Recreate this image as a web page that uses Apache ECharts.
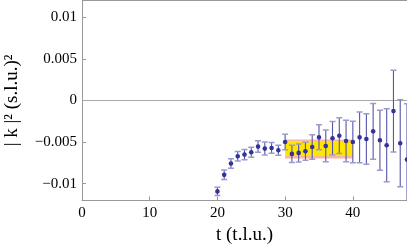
<!DOCTYPE html>
<html><head><meta charset="utf-8">
<script src="https://cdn.jsdelivr.net/npm/echarts@6/dist/echarts.min.js"></script>
<style>html,body{margin:0;padding:0;background:#fff}#c{width:407px;height:249px}</style>
</head><body><div id="c"></div>
<script>
var times = [20,21,22,23,24,25,26,27,28,29,30,31,32,33,34,35,36,37,38,39,40,41,42,43,44,45,46,47,48];
var k2 = [-0.01092,-0.00893,-0.00757,-0.0067,-0.0065,-0.00622,-0.00554,-0.00578,-0.0057,-0.00598,
          -0.00499,-0.00642,-0.0063,-0.0061,-0.00558,-0.00443,-0.00546,-0.00454,-0.00423,-0.00487,
          -0.00499,-0.00443,-0.00463,-0.00371,-0.00478,-0.00538,-0.00128,-0.00514,-0.0071];
var errs = [0.0005,0.00057,0.00056,0.00056,0.00062,0.0006,0.00069,0.00078,0.00064,0.0006,
            0.00092,0.00104,0.00108,0.00108,0.00147,0.0015,0.0019,0.002,0.00215,0.00248,
            0.00249,0.00305,0.00303,0.00335,0.00359,0.00437,0.0049,0.00523,0.0067];
var yTicks = [-0.01,-0.005,0,0.005,0.01];
var xTicks = [0,10,20,30,40];
var bandT = [30,40];
var yellowBand = [-0.00666,-0.00487];
var pinkBand = [-0.00697,-0.0047];

function fmtY(v){
  if (Math.abs(v) < 1e-12) return '0';
  var s = String(Math.abs(v));
  return (v < 0 ? '\u2212' : '') + s;
}
var chart = echarts.init(document.getElementById('c'));
var font = "'Liberation Serif', 'DejaVu Serif', serif";
var errData = times.map(function(t,i){ return [t, k2[i], k2[i]-errs[i], k2[i]+errs[i]]; });
chart.setOption({
  animation:false,
  textStyle:{fontFamily:font},
  grid:{left:82, right:0, top:0.5, bottom:48.6, show:false, containLabel:false, outerBoundsMode:'none'},
  xAxis:{type:'value', min:0, max:48,
    axisLine:{show:true, onZero:false, lineStyle:{color:'#999', width:1}},
    axisTick:{show:true, inside:true, length:4, customValues:xTicks, lineStyle:{color:'#999'}},
    axisLabel:{customValues:xTicks, fontFamily:font, fontSize:15, color:'#000', margin:5},
    splitLine:{show:false},
    name:'t (t.l.u.)', nameLocation:'middle', nameGap:22,
    nameTextStyle:{fontFamily:font, fontSize:19, color:'#000'}
  },
  yAxis:{type:'value', min:-0.012, max:0.012,
    axisLine:{show:true, onZero:false, lineStyle:{color:'#999', width:1}},
    axisTick:{show:true, inside:true, length:4, customValues:yTicks, lineStyle:{color:'#999'}},
    axisLabel:{customValues:yTicks, fontFamily:font, fontSize:15, color:'#000', margin:5, formatter:fmtY},
    splitLine:{show:false},
    name:'| k |\u00b2 (s.l.u.)\u00b2', nameLocation:'middle', nameGap:60, nameRotate:90,
    nameTextStyle:{fontFamily:font, fontSize:19, color:'#000'}
  },
  series:[
    {type:'line', data:[], silent:true,
     markArea:{silent:true, itemStyle:{color:'#f8b6a4'},
       data:[[{xAxis:bandT[0], yAxis:pinkBand[0]},{xAxis:bandT[1], yAxis:pinkBand[1]}]]},
     markLine:{silent:true, symbol:'none', label:{show:false},
       lineStyle:{color:'#aaa', width:1, type:'solid'},
       data:[{yAxis:0}]}
    },
    {type:'line', data:[], silent:true,
     markArea:{silent:true, itemStyle:{color:'#ffe600'},
       data:[[{xAxis:bandT[0], yAxis:yellowBand[0]},{xAxis:bandT[1], yAxis:yellowBand[1]}]]}
    },
    {type:'custom', data:errData, clip:true, z:5,
     renderItem:function(params, api){
       var x = api.value(0);
       var p = api.coord([x, api.value(1)]);
       var lo = api.coord([x, api.value(2)]);
       var hi = api.coord([x, api.value(3)]);
       var cw = 3;
       var st = {stroke:'#5555a8', lineWidth:1.1};
       var cst = {stroke:'#9a9ad0', lineWidth:1.5};
       return {type:'group', children:[
         {type:'line', shape:{x1:p[0], y1:lo[1], x2:p[0], y2:hi[1]}, style:st},
         {type:'line', shape:{x1:p[0]-cw, y1:lo[1], x2:p[0]+cw, y2:lo[1]}, style:cst},
         {type:'line', shape:{x1:p[0]-cw, y1:hi[1], x2:p[0]+cw, y2:hi[1]}, style:cst},
         {type:'circle', shape:{cx:p[0], cy:p[1], r:2.3}, style:{fill:'#33339a'}}
       ]};
     },
     encode:{x:0, y:1}
    }
  ],
  graphic:[{type:'line', shape:{x1:82, y1:0.5, x2:407, y2:0.5}, style:{stroke:'#999', lineWidth:1}}]
});
</script></body></html>
